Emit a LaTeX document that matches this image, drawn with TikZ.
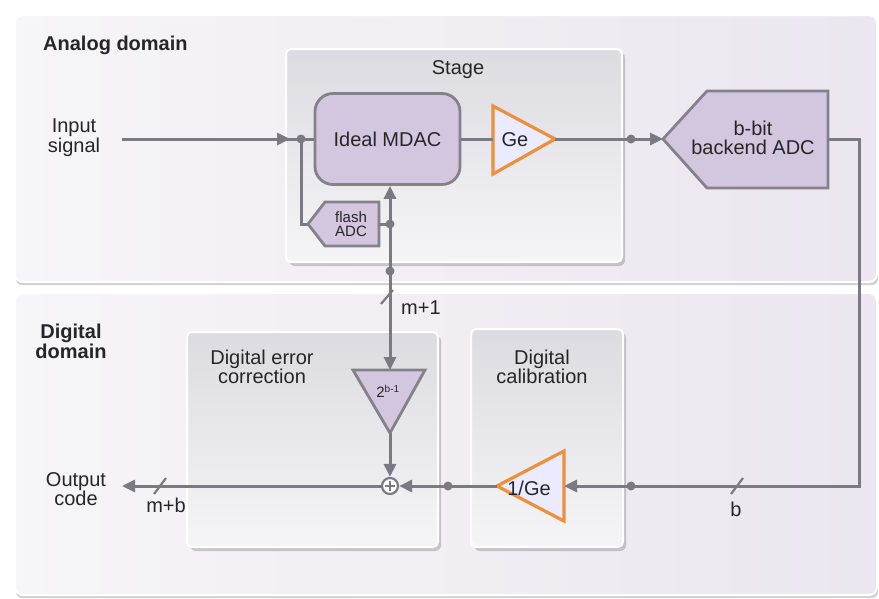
\documentclass[tikz,border=0pt]{standalone}
\usepackage{fontspec}
\setmainfont{Liberation Sans}
\usetikzlibrary{arrows.meta,calc}

\definecolor{wirec}{HTML}{7B7A82}
\definecolor{lav}{HTML}{D2C7DE}
\definecolor{lavedge}{HTML}{84818B}
\definecolor{orng}{HTML}{EE8F3C}
\definecolor{panelL}{HTML}{F6F5F8}
\definecolor{panelR}{HTML}{EBE6EF}
\definecolor{boxT}{HTML}{DCDBE1}
\definecolor{boxB}{HTML}{F5F5F7}
\definecolor{txt}{HTML}{26262A}

\tikzset{
  wire/.style={draw=wirec, line width=3pt},
  arr/.style={-{Triangle[length=13pt,width=12pt]}},
  junction/.style={fill=wirec, draw=none},
  panel/.style={draw=white, line width=2pt, rounded corners=8pt, left color=panelL, right color=panelR},
  subbox/.style={draw=white, line width=2pt, rounded corners=5pt, top color=boxT, bottom color=boxB},
  shadowbox/.style={fill=black, opacity=0.18, rounded corners=6pt},
  lavshape/.style={fill=lav, draw=lavedge, line width=2.8pt, line join=miter},
  ampshape/.style={fill=white!92!blue, draw=orng, line width=3.2pt, line join=miter},
  lbl/.style={inner sep=0pt, text=txt, font=\fontsize{20}{18}\selectfont, align=center},
  hdr/.style={inner sep=0pt, text=txt, font=\fontsize{20}{18}\selectfont\bfseries, align=center},
  small/.style={inner sep=0pt, text=txt, font=\fontsize{15}{14}\selectfont, align=center},
  slash/.style={draw=wirec, line width=2.2pt},
}

\begin{document}
\begin{tikzpicture}[x=1pt,y=-1pt]
\useasboundingbox (0,0) rectangle (879,598);
\fill[white] (0,0) rectangle (879,598);

% ---- domain panels ----
\fill[shadowbox] (16,18) rectangle (878,285);
\path[panel] (15,15) rectangle (877,282);
\fill[shadowbox] (16,296) rectangle (878,598);
\path[panel] (15,293) rectangle (877,595);

% ---- inner blocks ----
\fill[shadowbox] (289,52) rectangle (625,266);
\path[subbox] (286,49) rectangle (622,262);
\fill[shadowbox] (190,335) rectangle (441,551);
\path[subbox] (187,332) rectangle (438,547);
\fill[shadowbox] (474,332) rectangle (626,551);
\path[subbox] (471,329) rectangle (623,547);

% ---- headings ----
\node[hdr, anchor=west] (analog) at (43,45) {Analog domain};
\node[hdr] (digital) at (71,341) {Digital\\domain};
\node[lbl] (stagelbl) at (458,70) {Stage};
\node[lbl] (declbl) at (262,367) {Digital error\\correction};
\node[lbl] (callbl) at (542,367) {Digital\\calibration};
\node[lbl] (inlbl) at (74,138) {Input\\signal};
\node[lbl] (outlbl) at (76,489) {Output\\code};

% ---- analog blocks ----
\node[lavshape, rounded corners=18pt, minimum width=145pt, minimum height=91pt,
      lbl, text=txt] (mdac) at (387.5,139) {Ideal MDAC};

% flash ADC (pentagon pointing left)
\coordinate (flashtip) at (308,224);
\coordinate (flashout) at (379,224);
\path[lavshape] (flashtip) -- (325,202) -- (379,202) -- (379,246) -- (325,246) -- cycle;
\node[small] (flash) at (351,224) {flash\\ADC};

% inter-stage gain Ge
\coordinate (gein) at (493,139);
\coordinate (geout) at (555,139);
\path[ampshape] (493,106) -- (geout) -- (493,174) -- cycle;
\node[lbl] (ge) at (515,140) {Ge};

% backend ADC
\coordinate (bktip) at (663,139);
\coordinate (bkout) at (828,139);
\path[lavshape] (bktip) -- (707,91) -- (828,91) -- (828,188) -- (707,188) -- cycle;
\node[lbl, font=\fontsize{20}{19}\selectfont] (bk) at (753,138) {b-bit\\backend ADC};

% ---- digital blocks ----
\coordinate (twotop) at (390,370);
\coordinate (twotip) at (390,433);
\path[lavshape] (353,370) -- (425,370) -- (twotip) -- cycle;
\node[small] (two) at (388,391) {2\textsuperscript{\fontsize{10}{10}\selectfont b-1}};

\coordinate (calin) at (564,486);
\coordinate (calout) at (497,486);
\path[ampshape] (564,451) -- (calout) -- (564,521) -- cycle;
\node[lbl] (cal) at (529,488) {1/Ge};

% summing node
\node[circle, draw=wirec, line width=2.2pt, fill=white, minimum size=16pt, inner sep=0pt] (sum) at (390,486) {};
\draw[wirec, line width=1.8pt] ($(sum.center)+(-5,0)$) -- ($(sum.center)+(5,0)$)
      ($(sum.center)+(0,-5)$) -- ($(sum.center)+(0,5)$);

% ---- junctions ----
\coordinate (inS) at (122,139);
\coordinate (jin) at (301,139);
\coordinate (jflash) at (390,224);
\coordinate (jvert) at (390,271);
\coordinate (jge) at (631,139);
\coordinate (corner1) at (859,139);
\coordinate (corner2) at (859,486);
\coordinate (jb) at (631,486);
\coordinate (jcal) at (448,486);
\coordinate (outE) at (122,486);

% ---- wiring ----
\draw[wire, arr] (inS) -- (290,139);
\draw[wire] (287,139) -- (mdac.west);
\draw[wire] (jin) |- (flashtip);
\draw[wire] (flashout) -- (jflash);
\draw[wire, arr] (jflash) -- (jflash |- mdac.south);
\draw[wire, arr] (jflash) -- (twotop);
\draw[wire] (mdac.east) -- (gein);
\draw[wire] (geout) -- (jge);
\draw[wire, arr] (jge) -- (bktip);
\draw[wire, line join=miter] (bkout) -- (corner1) -- (corner2) -- (jb);
\draw[wire, arr] (jb) -- (calin);
\draw[wire] (calout) -- (jcal);
\draw[wire, arr] (jcal) -- (sum.east);
\draw[wire, arr] (twotip) -- (sum.north);
\draw[wire, arr] (sum.west) -- (outE);

\foreach \j in {jin,jflash,jvert,jge,jb,jcal}
  \fill[junction] (\j) circle (4.5pt);

% bus-width marks
\draw[slash] (381,304) -- (393,290);
\node[lbl, anchor=west] (m1) at (401,308) {m+1};
\draw[slash] (154,494) -- (166,478);
\node[lbl] (mb) at (166,505) {m+b};
\draw[slash] (731,494) -- (743,478);
\node[lbl] (bw) at (736,509) {b};
\end{tikzpicture}
\end{document}
